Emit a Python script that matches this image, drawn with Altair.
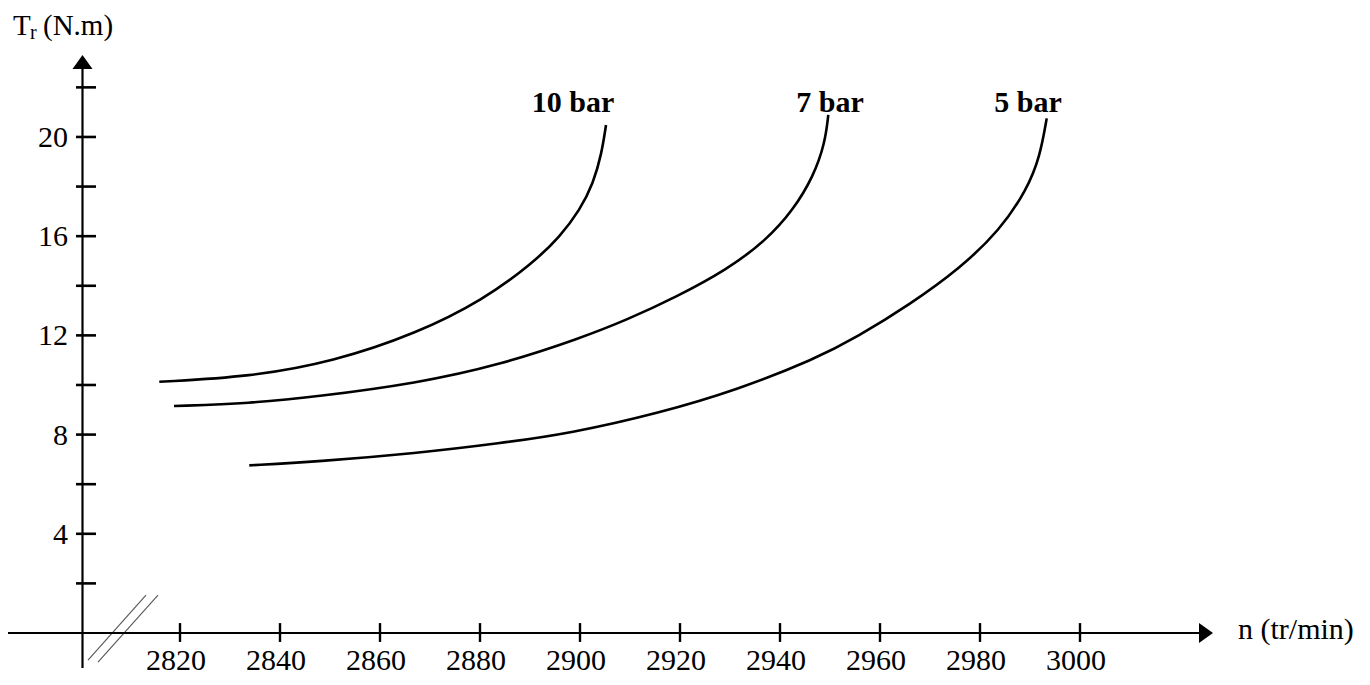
import altair as alt
import pandas as pd

# ---- data ----
n_10 = [2815.86, 2834, 2850.66, 2867.34, 2880.66, 2890.6, 2896, 2900, 2902.66, 2904.34, 2905.2]
T_10 = [10.13, 10.33, 10.94, 12.08, 13.43, 14.92, 15.98, 17.06, 18.13, 19.34, 20.48]

n_7 = [2818.8, 2834, 2847.34, 2867.34, 2884, 2900, 2909.34, 2919.34, 2929.34, 2937.34, 2942.66, 2946.66, 2949, 2949.66]
T_7 = [9.15, 9.26, 9.53, 10.07, 10.81, 11.88, 12.62, 13.56, 14.64, 15.85, 17.06, 18.40, 19.75, 20.89]

n_5 = [2833.86, 2847.34, 2867.34, 2884, 2898, 2915.68, 2931.38, 2947.06, 2955.34, 2966, 2976, 2984, 2989.34, 2992, 2993.34]
T_5 = [6.76, 6.91, 7.25, 7.65, 8.05, 8.86, 9.80, 11.05, 11.92, 13.25, 14.70, 16.25, 17.86, 19.21, 20.75]

series_names = ["10 bar", "7 bar", "5 bar"]
label_n = [2898.6, 2950.0, 2989.6]
label_T = [21.0, 21.0, 21.0]

x_ticks = [2820, 2840, 2860, 2880, 2900, 2920, 2940, 2960, 2980, 3000]
y_ticks = [2, 4, 6, 8, 10, 12, 14, 16, 18, 20, 22]
y_labels = [4, 8, 12, 16, 20]

X_DOMAIN = [2785.6, 3056.4]
Y_DOMAIN = [-1.774, 25.2]
X_ORIGIN = 2800.5      # where the (broken) vertical axis stands
X_ARROW = 3025.2
Y_ARROW = 23.02

FONT = "Liberation Serif"

xs = alt.Scale(domain=X_DOMAIN, nice=False, zero=False)
ys = alt.Scale(domain=Y_DOMAIN, nice=False, zero=False)

rows = []
for name, ns, ts in [("10 bar", n_10, T_10), ("7 bar", n_7, T_7), ("5 bar", n_5, T_5)]:
    for a, b in zip(ns, ts):
        rows.append({"series": name, "n": a, "T": b})
df_curves = pd.DataFrame(rows)

curves = alt.Chart(df_curves).mark_line(
    color="black", strokeWidth=2.6, interpolate="basis"
).encode(
    x=alt.X("n:Q", scale=xs, axis=None),
    y=alt.Y("T:Q", scale=ys, axis=None),
    detail="series:N",
)

labels = alt.Chart(pd.DataFrame({"n": label_n, "T": label_T, "s": series_names})).mark_text(
    font=FONT, fontSize=30, fontWeight="bold", align="center", baseline="alphabetic", color="black"
).encode(
    x=alt.X("n:Q", scale=xs, axis=None),
    y=alt.Y("T:Q", scale=ys, axis=None),
    text="s:N",
)

# x axis line + arrow
x_axis = alt.Chart(pd.DataFrame({"x": [X_DOMAIN[0]], "x2": [X_ARROW], "y": [0]})).mark_rule(
    color="black", strokeWidth=2.2
).encode(x=alt.X("x:Q", scale=xs, axis=None), x2="x2:Q", y=alt.Y("y:Q", scale=ys, axis=None))

x_arrow = alt.Chart(pd.DataFrame({"x": [X_ARROW], "y": [0]})).mark_point(
    shape="M-0.7,-1L0.7,0L-0.7,1Z", size=400, filled=True, color="black", opacity=1
).encode(x=alt.X("x:Q", scale=xs, axis=None), y=alt.Y("y:Q", scale=ys, axis=None))

# y axis line + arrow
y_axis = alt.Chart(pd.DataFrame({"x": [X_ORIGIN], "y": [-1.41], "y2": [Y_ARROW]})).mark_rule(
    color="black", strokeWidth=2.2
).encode(x=alt.X("x:Q", scale=xs, axis=None), y=alt.Y("y:Q", scale=ys, axis=None), y2="y2:Q")

y_arrow = alt.Chart(pd.DataFrame({"x": [X_ORIGIN], "y": [Y_ARROW]})).mark_point(
    shape="M-1,0.7L0,-0.7L1,0.7Z", size=400, filled=True, color="black", opacity=1
).encode(x=alt.X("x:Q", scale=xs, axis=None), y=alt.Y("y:Q", scale=ys, axis=None))

# ticks
yt = alt.Chart(pd.DataFrame({"T": y_ticks, "xa": [2799.2] * len(y_ticks), "xb": [2803.2] * len(y_ticks)})).mark_rule(
    color="black", strokeWidth=2.6
).encode(x=alt.X("xa:Q", scale=xs, axis=None), x2="xb:Q", y=alt.Y("T:Q", scale=ys, axis=None))

xt = alt.Chart(pd.DataFrame({"n": x_ticks, "ya": [0.4] * len(x_ticks), "yb": [-0.36] * len(x_ticks)})).mark_rule(
    color="black", strokeWidth=2.4
).encode(x=alt.X("n:Q", scale=xs, axis=None), y=alt.Y("ya:Q", scale=ys, axis=None), y2="yb:Q")

yl = alt.Chart(pd.DataFrame({"T": y_labels, "x": [2797.6] * len(y_labels)})).mark_text(
    font=FONT, fontSize=30, align="right", baseline="middle", color="black", dy=1
).encode(x=alt.X("x:Q", scale=xs, axis=None), y=alt.Y("T:Q", scale=ys, axis=None), text=alt.Text("T:Q"))

xl = alt.Chart(pd.DataFrame({"n": x_ticks, "y": [-1.48] * len(x_ticks)})).mark_text(
    font=FONT, fontSize=30, align="center", baseline="alphabetic", color="black", dx=-4
).encode(x=alt.X("n:Q", scale=xs, axis=None), y=alt.Y("y:Q", scale=ys, axis=None), text=alt.Text("n:Q", format="d"))

# axis break marks
brk = alt.Chart(pd.DataFrame({
    "x": [2801.6, 2803.6], "y": [-1.09, -1.17],
    "x2": [2813.2, 2815.6], "y2": [1.53, 1.53],
})).mark_rule(color="#555555", strokeWidth=1.1).encode(
    x=alt.X("x:Q", scale=xs, axis=None), y=alt.Y("y:Q", scale=ys, axis=None), x2="x2:Q", y2="y2:Q"
)

# axis titles
t_T = alt.Chart(pd.DataFrame({"t": ["T"]})).mark_text(
    font=FONT, fontSize=29, align="left", baseline="alphabetic", color="black"
).encode(x=alt.value(5), y=alt.value(27), text="t:N")
t_r = alt.Chart(pd.DataFrame({"t": ["r"]})).mark_text(
    font=FONT, fontSize=20, align="left", baseline="alphabetic", color="black"
).encode(x=alt.value(22), y=alt.value(31), text="t:N")
t_unit = alt.Chart(pd.DataFrame({"t": ["(N.m)"]})).mark_text(
    font=FONT, fontSize=29, align="left", baseline="alphabetic", color="black"
).encode(x=alt.value(35), y=alt.value(27), text="t:N")
t_n = alt.Chart(pd.DataFrame({"t": ["n (tr/min)"]})).mark_text(
    font=FONT, fontSize=30, align="left", baseline="alphabetic", color="black"
).encode(x=alt.value(1230), y=alt.value(631), text="t:N")

chart = alt.layer(
    brk, x_axis, y_axis, xt, yt, x_arrow, y_arrow, xl, yl, curves, labels, t_T, t_r, t_unit, t_n
).properties(
    width=1354, height=669, autosize=alt.AutoSizeParams(type="none"), padding=0, background="white"
).configure_view(stroke=None)

chart.save("out.html", embed_options={"renderer": "svg", "actions": False})
